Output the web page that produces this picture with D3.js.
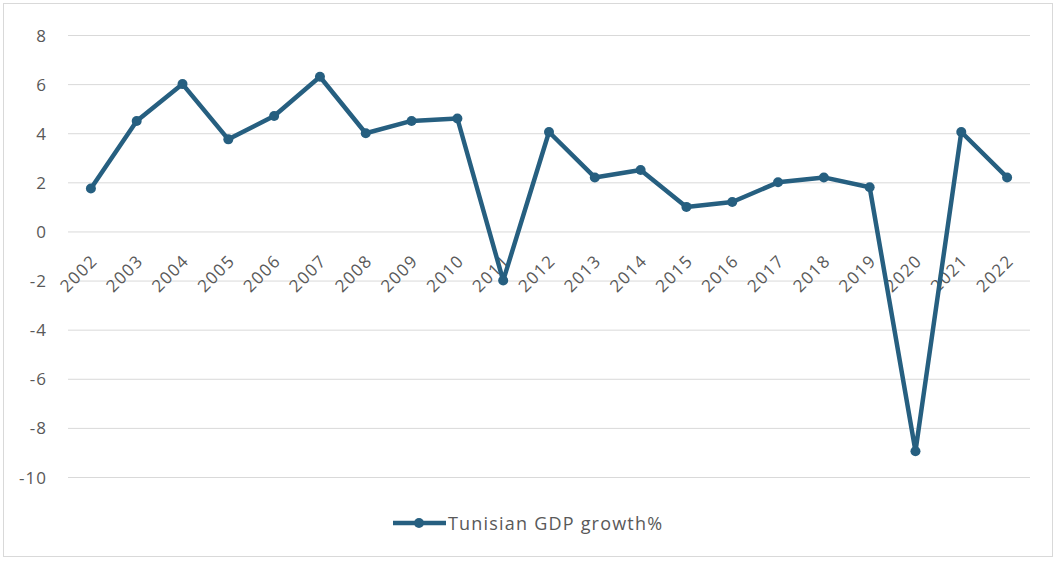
<!DOCTYPE html>
<html>
<head>
<meta charset="utf-8">
<script src="https://cdn.jsdelivr.net/npm/d3@7"></script>
<style>
  body { margin: 0; background: #fff; }
  svg { font-family: "Open Sans", "Liberation Sans", sans-serif; }
</style>
</head>
<body>
<svg id="chart" width="1057" height="561"></svg>
<script>
const years = ['2002', '2003', '2004', '2005', '2006', '2007', '2008', '2009', '2010', '2011',
  '2012', '2013', '2014', '2015', '2016', '2017', '2018', '2019', '2020', '2021', '2022'];
const growth = [1.75, 4.5, 6.0, 3.75, 4.7, 6.3, 4.0, 4.5, 4.6, -2.0,
  4.05, 2.2, 2.5, 1.0, 1.2, 2.0, 2.2, 1.8, -8.95, 4.05, 2.2];
const yTicks = [8, 6, 4, 2, 0, -2, -4, -6, -8, -10];
const seriesName = 'Tunisian GDP growth%';

const color = '#265f80';
const textColor = '#595959';
const svg = d3.select('#chart');

// chart frame
svg.append('rect')
  .attr('x', 3.5).attr('y', 3.5)
  .attr('width', 1049).attr('height', 553)
  .attr('fill', 'none')
  .attr('stroke', '#d9d9d9');

const x = d3.scaleBand().domain(years).range([68, 1030]);
const y = d3.scaleLinear().domain([-10, 8]).range([477, 35]);
const cx = d => x(d) + x.bandwidth() / 2;

// gridlines + y labels
svg.append('g')
  .selectAll('line')
  .data(yTicks)
  .enter()
  .append('line')
  .attr('x1', 68).attr('x2', 1030)
  .attr('y1', d => y(d) + 0.5).attr('y2', d => y(d) + 0.5)
  .attr('stroke', '#d9d9d9')
  .attr('stroke-width', 1);

svg.append('g')
  .selectAll('text')
  .data(yTicks)
  .enter()
  .append('text')
  .attr('x', 47)
  .attr('y', d => y(d))
  .attr('text-anchor', 'end')
  .attr('dominant-baseline', 'central')
  .attr('font-size', 17)
  .attr('letter-spacing', 1)
  .attr('fill', textColor)
  .text(d => d);

// x labels, rotated
svg.append('g')
  .selectAll('text')
  .data(years)
  .enter()
  .append('text')
  .attr('transform', d => `translate(${cx(d) + 3},${y(0) + 26}) rotate(-45)`)
  .attr('text-anchor', 'end')
  .attr('dominant-baseline', 'central')
  .attr('font-size', 17)
  .attr('letter-spacing', 1.3)
  .attr('fill', textColor)
  .text(d => d);

// line
const line = d3.line()
  .x((d, i) => cx(years[i]))
  .y(d => y(d));

svg.append('path')
  .datum(growth)
  .attr('d', line)
  .attr('fill', 'none')
  .attr('stroke', color)
  .attr('stroke-width', 4.5)
  .attr('stroke-linejoin', 'round');

svg.append('g')
  .selectAll('circle')
  .data(growth)
  .enter()
  .append('circle')
  .attr('cx', (d, i) => cx(years[i]))
  .attr('cy', d => y(d))
  .attr('r', 5)
  .attr('fill', color);

// legend
const lg = svg.append('g').attr('transform', 'translate(393,523)');
lg.append('line')
  .attr('x1', 0).attr('x2', 53)
  .attr('stroke', color)
  .attr('stroke-width', 4.5);
lg.append('circle').attr('cx', 26).attr('r', 5).attr('fill', color);
lg.append('text')
  .attr('x', 55)
  .attr('dominant-baseline', 'central')
  .attr('font-size', 18)
  .attr('letter-spacing', 1.2)
  .attr('fill', textColor)
  .text(seriesName);
</script>
</body>
</html>
